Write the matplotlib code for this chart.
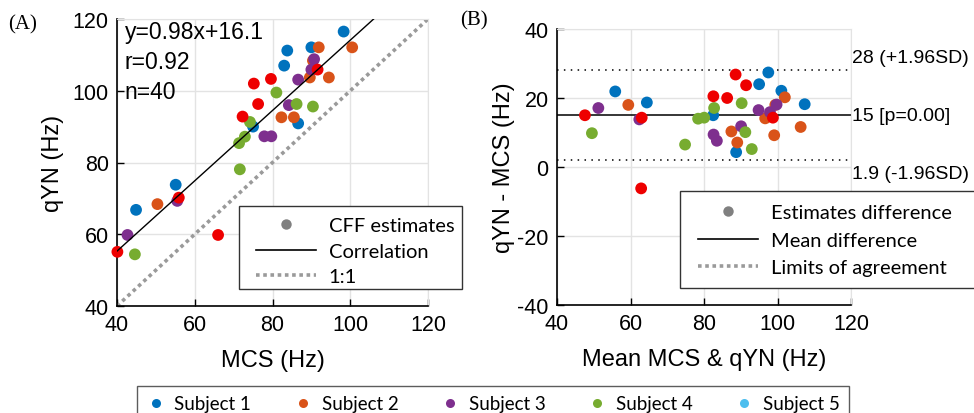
import matplotlib
matplotlib.use("Agg")
import matplotlib.pyplot as plt
import numpy as np
from matplotlib.lines import Line2D
from matplotlib.patches import Rectangle

# ---- data ----
subjects = ["Subject 1", "Subject 2", "Subject 3", "Subject 4", "Subject 5", "Subject 6"]
colors = ["#0072BD", "#D95319", "#7E2F8E", "#77AC30", "#4DBEEE", "#EE0000"]

mcs_s1 = [98.3, 83.8, 90.0, 83.0, 75.0, 86.6, 55.1, 44.9]
qyn_s1 = [116.5, 111.2, 112.1, 107.0, 90.0, 90.9, 73.8, 66.8]
mcs_s2 = [91.9, 100.5, 89.6, 94.5, 82.3, 85.5, 50.4, 90.4]
qyn_s2 = [112.1, 112.1, 103.7, 103.7, 92.6, 92.6, 68.4, 108.4]
mcs_s3 = [90.7, 90.0, 86.6, 84.2, 77.9, 79.7, 55.5, 42.7]
qyn_s3 = [108.8, 105.9, 103.1, 96.0, 87.3, 87.3, 69.3, 59.8]
mcs_s4 = [81.0, 86.2, 90.4, 74.2, 72.9, 71.4, 71.6, 44.6]
qyn_s4 = [99.5, 96.3, 95.6, 91.3, 87.2, 85.4, 78.1, 54.4]
mcs_s5 = []
qyn_s5 = []
mcs_s6 = [75.2, 79.6, 76.3, 72.3, 91.6, 55.9, 66.0, 40.1]
qyn_s6 = [102.0, 103.3, 96.3, 92.8, 105.9, 70.2, 59.8, 55.1]

mcs_all = [mcs_s1, mcs_s2, mcs_s3, mcs_s4, mcs_s5, mcs_s6]
qyn_all = [qyn_s1, qyn_s2, qyn_s3, qyn_s4, qyn_s5, qyn_s6]

fit_slope, fit_intercept = 0.98, 16.1
r_value, n_value = 0.92, 40
mean_diff, upper_loa, lower_loa = 15.0, 28.0, 1.9

x_ticks = [40, 60, 80, 100, 120]
yA_ticks = [40, 60, 80, 100, 120]
yB_ticks = [-40, -20, 0, 20, 40]

# ---- figure ----
W, H = 974, 414
fig = plt.figure(figsize=(W / 100, H / 100), dpi=100)
sans = "Liberation Sans"
leg_font = "Lato"

def fx(px):
    return px / W

def fy(py):
    return 1 - py / H

axA = fig.add_axes([fx(117), fy(307), fx(428) - fx(117), fy(20) - fy(307)])
axB = fig.add_axes([fx(557), fy(306), fx(851) - fx(557), fy(30) - fy(306)])

for ax in (axA, axB):
    ax.set_axisbelow(True)
    ax.grid(True, color="#e3e3e3", linewidth=1.0)
    for s in ("top", "right"):
        ax.spines[s].set_color("#e3e3e3")
    for s in ("left", "bottom"):
        ax.spines[s].set_color("black")
        ax.spines[s].set_linewidth(1.2)
    ax.tick_params(direction="in", length=5, width=1, labelsize=15.5, pad=6,
                   top=False, right=False)

ms = 72
# Panel A
for xs, ys, c in zip(mcs_all, qyn_all, colors):
    if len(xs):
        axA.scatter(xs, ys, s=ms, color=c, edgecolors="none", zorder=3, clip_on=False)
xl = np.array([40, 120])
axA.plot(xl, fit_slope * xl + fit_intercept, color="black", lw=1, zorder=4)
axA.plot(xl, xl, color="#9a9a9a", lw=2.6, linestyle=(0, (1, 1)), zorder=2)
axA.set_xlim(40, 120)
axA.set_ylim(40, 120)
axA.set_xticks(x_ticks)
axA.set_yticks(yA_ticks)
axA.set_xticklabels([str(t) for t in x_ticks], fontfamily=sans)
axA.set_yticklabels([str(t) for t in yA_ticks], fontfamily=sans)
axA.set_xlabel("MCS (Hz)", fontsize=17, fontfamily=sans, labelpad=10)
axA.set_ylabel("qYN (Hz)", fontsize=17, fontfamily=sans, labelpad=6)
axA.text(0.025, 0.955, f"y={fit_slope:.2f}x+{fit_intercept:.1f}", transform=axA.transAxes,
         fontsize=16.5, fontfamily=sans, va="center", ha="left", zorder=5)
axA.text(0.025, 0.852, f"r={r_value:.2f}", transform=axA.transAxes,
         fontsize=16.5, fontfamily=sans, va="center", ha="left", zorder=5)
axA.text(0.025, 0.748, f"n={n_value}", transform=axA.transAxes,
         fontsize=16.5, fontfamily=sans, va="center", ha="left", zorder=5)

# Panel B (Bland-Altman)
for xs, ys, c in zip(mcs_all, qyn_all, colors):
    if len(xs):
        xs = np.array(xs); ys = np.array(ys)
        axB.scatter((xs + ys) / 2, ys - xs, s=ms, color=c, edgecolors="none", zorder=3)
axB.axhline(mean_diff, color="black", lw=1.1, zorder=2)
axB.axhline(upper_loa, color="black", lw=1.1, linestyle=(0, (1, 3.5)), zorder=2)
axB.axhline(lower_loa, color="black", lw=1.1, linestyle=(0, (1, 3.5)), zorder=2)
axB.set_xlim(40, 120)
axB.set_ylim(-40, 40)
axB.set_xticks(x_ticks)
axB.set_yticks(yB_ticks)
axB.set_xticklabels([str(t) for t in x_ticks], fontfamily=sans)
axB.set_yticklabels([str(t) for t in yB_ticks], fontfamily=sans)
axB.set_xlabel("Mean MCS & qYN (Hz)", fontsize=17, fontfamily=sans, labelpad=10)
axB.set_ylabel("qYN - MCS (Hz)", fontsize=17, fontfamily=sans, labelpad=2)
axB.text(120.3, upper_loa + 1.2, f"{upper_loa:.0f} (+1.96SD)", fontsize=14, fontfamily=sans,
         ha="left", va="bottom", clip_on=False)
axB.text(120.3, mean_diff, f"{mean_diff:.0f} [p=0.00]", fontsize=14, fontfamily=sans,
         ha="left", va="center", clip_on=False)
axB.text(120.3, lower_loa - 1.2, f"{lower_loa:.1f} (-1.96SD)", fontsize=14, fontfamily=sans,
         ha="left", va="top", clip_on=False)

# panel letters
fig.text(fx(8), fy(25), "(A)", fontsize=15, fontfamily="Liberation Serif", va="center", ha="left")
fig.text(fx(460), fy(21), "(B)", fontsize=15, fontfamily="Liberation Serif", va="center", ha="left")

# Legend A
hA = [Line2D([], [], linestyle="none", marker="o", markersize=7.5, color="#808080", markeredgecolor="none"),
      Line2D([], [], color="black", lw=1.2),
      Line2D([], [], color="#9a9a9a", lw=2.6, linestyle=(0, (1, 1)))]
legA = fig.legend(hA, ["CFF estimates", "Correlation", "1:1"], loc="upper left",
                  bbox_to_anchor=(fx(248), fy(210)), frameon=False,
                  prop={"family": leg_font, "size": 14.5}, handlelength=3.0,
                  handletextpad=0.6, labelspacing=0.42, borderaxespad=0)
fig.patches.append(Rectangle((fx(239), fy(290)), fx(462) - fx(239), fy(207) - fy(290),
                             transform=fig.transFigure, fill=True, facecolor="white",
                             edgecolor="#333333", lw=1.0, zorder=1))

# Legend B
hB = [Line2D([], [], linestyle="none", marker="o", markersize=7.5, color="#808080", markeredgecolor="none"),
      Line2D([], [], color="black", lw=1.2),
      Line2D([], [], color="#9a9a9a", lw=2.6, linestyle=(0, (1, 1)))]
legB = fig.legend(hB, ["Estimates difference", "Mean difference", "Limits of agreement"],
                  loc="upper left", bbox_to_anchor=(fx(690), fy(197)), frameon=False,
                  prop={"family": leg_font, "size": 14.5}, handlelength=3.0,
                  handletextpad=0.6, labelspacing=0.52, borderaxespad=0)
fig.patches.append(Rectangle((fx(680), fy(289)), fx(990) - fx(680), fy(192) - fy(289),
                             transform=fig.transFigure, fill=True, facecolor="white",
                             edgecolor="#333333", lw=1.0, zorder=1))

# Bottom subject legend (first row visible)
hS = [Line2D([], [], linestyle="none", marker="o", markersize=6.5, color=c, markeredgecolor="none")
      for c in colors[:5]]
legS = fig.legend(hS, subjects[:5], loc="upper left", ncol=5,
                  bbox_to_anchor=(fx(137), fy(387), fx(849) - fx(137), 0), mode="expand",
                  frameon=True, fancybox=False, edgecolor="#333333",
                  prop={"family": leg_font, "size": 13.5}, handlelength=1.0,
                  handletextpad=0.5, borderaxespad=0, borderpad=0.5)
legS.get_frame().set_linewidth(1.0)

fig.savefig("out.png", dpi=100)
